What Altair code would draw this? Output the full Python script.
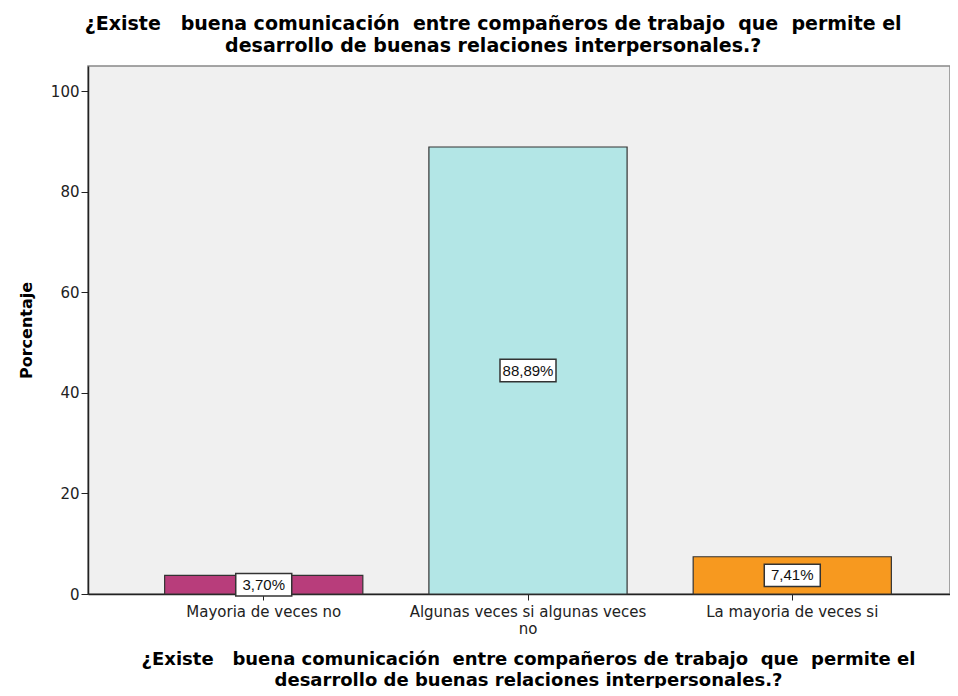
import altair as alt
import pandas as pd

categories = ["Mayoria de veces no", "Algunas veces si algunas veces no", "La mayoria de veces si"]
percentages = [3.70, 88.89, 7.41]
labels = ["3,70%", "88,89%", "7,41%"]
colors = ["#B83D7B", "#B3E6E6", "#F7991F"]

df = pd.DataFrame({"cat": categories, "pct": percentages, "lab": labels,
                   "mid": [p / 2 for p in percentages]})

NB = "\u00a0"
title_text = [f"¿Existe{NB}{NB} buena comunicación{NB} entre compañeros de trabajo{NB} que{NB} permite el",
              "desarrollo de buenas relaciones interpersonales.?"]

x_enc = alt.X("cat:N", sort=categories,
              scale=alt.Scale(paddingInner=0.25, paddingOuter=0.29, range=[0, 880]),
              axis=alt.Axis(title=title_text, titleFontSize=18, titleFontWeight="bold",
                            titleFont="DejaVu Sans", titleColor="#000",
                            titlePadding=14, titleLineHeight=21,
                            labelAngle=0, labelFontSize=15, labelFont="DejaVu Sans",
                            labelColor="#222", labelPadding=4, labelLineHeight=17,
                            labelLimit=500,
                            labelExpr="datum.value == 'Algunas veces si algunas veces no' ? ['Algunas veces si algunas veces', 'no'] : datum.value",
                            tickSize=6, tickColor="#222", domainColor="#222", domainWidth=1.5))

bars = alt.Chart(df).mark_bar(stroke="#333", strokeWidth=1.2).encode(
    x=x_enc,
    y=alt.Y("pct:Q", scale=alt.Scale(domain=[0, 105], nice=False),
            axis=alt.Axis(title="Porcentaje", titleFontSize=16, titleFontWeight="bold",
                          titleFont="DejaVu Sans", titleColor="#000", titlePadding=16,
                          values=[0, 20, 40, 60, 80, 100], labelFontSize=15,
                          labelFont="DejaVu Sans", labelColor="#222",
                          tickSize=7, tickColor="#222", domainColor="#222", domainWidth=1.5,
                          grid=False)),
    color=alt.Color("cat:N", sort=categories,
                    scale=alt.Scale(domain=categories, range=colors), legend=None),
)

boxes = alt.Chart(df).mark_point(
    shape="M-1,-0.4H1V0.4H-1Z", filled=True, fill="white", stroke="#333",
    strokeWidth=1.5, opacity=1, size=3136
).encode(x=alt.X("cat:N", sort=categories), y="mid:Q")

texts = alt.Chart(df).mark_text(font="Liberation Sans", fontSize=15, color="#111").encode(
    x=alt.X("cat:N", sort=categories), y="mid:Q", text="lab:N")

chart = alt.layer(bars, boxes, texts).properties(
    width=862, height=528,
    title=alt.TitleParams(text=title_text, fontSize=19, fontWeight="bold",
                          font="DejaVu Sans", color="#000", anchor="middle",
                          frame="bounds", lineHeight=22, offset=10),
    autosize=alt.AutoSizeParams(type="none"),
    padding={"left": 80, "top": 58, "right": 0, "bottom": 94},
).configure_view(fill="#F0F0F0", stroke="#888", strokeWidth=1.5)

chart.save("out.html", embed_options={"renderer": "svg", "actions": False})
